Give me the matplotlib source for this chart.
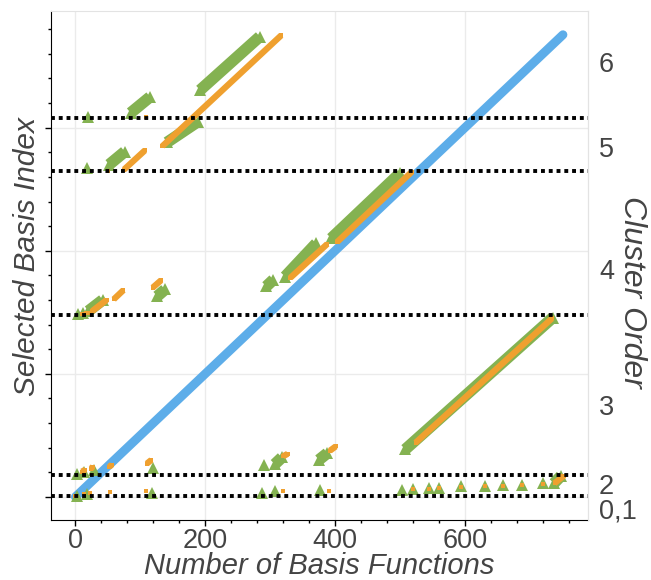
import numpy as np
import matplotlib.pyplot as plt
from matplotlib.ticker import MultipleLocator

# ---- data ----
# each run = a stretch of consecutive basis indices (start / end point)
blue_x0 = [0]
blue_x1 = [751]
blue_y0 = [0]
blue_y1 = [751]

green_x0 = [20, 126, 294, 323, 394, 52, 85, 141, 192, 307, 375, 508, 737]
green_x1 = [42, 138, 305, 371, 500, 76, 115, 189, 284, 318, 388, 735, 748]
green_y0 = [302, 326, 342, 358, 420, 540, 624, 576, 661, 53, 60, 77, 22]
green_y1 = [320, 337, 353, 412, 526, 561, 650, 610, 748, 64, 71, 291, 34]

# single green points
green_px = [2, 18, 118, 288, 307, 376, 503, 520, 544, 560, 594, 631, 659, 688, 721,
            2, 14, 28, 120, 290, 4, 12, 18, 20]
green_py = [1, 4, 6, 7, 9, 11, 11, 13, 14, 15, 17, 18, 19, 20, 22,
            37, 40, 43, 47, 52, 297, 299, 534, 618]

orange_x0 = [10, 24, 52, 110, 320, 392, 524, 738, 26, 59, 119, 331, 403, 75, 134]
orange_x1 = [15, 27, 56, 117, 327, 401, 734, 752, 48, 74, 132, 388, 518, 107, 317]
orange_y0 = [41, 46, 49, 54, 66, 75, 88, 22, 302, 321, 340, 356, 414, 532, 570]
orange_y1 = [44, 49, 52, 60, 70, 82, 290, 34, 320, 336, 352, 411, 528, 563, 750]

# single orange points
orange_px = [0, 13, 23, 53, 109, 320, 390, 520, 544, 560, 594, 631, 659, 688, 721,
             10, 16, 22, 50, 108]
orange_py = [1, 5, 7, 8, 9, 9, 10, 12, 13, 15, 16, 17, 18, 20, 21,
             297, 298, 299, 530, 617]

# boundaries between cluster orders (dotted lines)
cluster_edges = [1, 36, 295, 529, 616]
order_labels = ['0,1', '2', '3', '4', '5', '6']
order_label_y = [-19, 21, 150, 371, 569, 706]

blue = '#5dade9'
green = '#84b251'
orange = '#efa02f'
text_col = '#444444'

plt.rcParams['font.family'] = ['Liberation Sans', 'DejaVu Sans']

fig = plt.figure(figsize=(6.51, 5.8), dpi=100)
ax = fig.add_axes([51 / 651, 1 - 520 / 580, 537 / 651, 509 / 580])

# blue: natural order
for i in range(len(blue_x0)):
    ax.plot([blue_x0[i], blue_x1[i]], [blue_y0[i], blue_y1[i]], color=blue,
            lw=6.4, solid_capstyle='round', zorder=2)

# green runs + points
for i in range(len(green_x0)):
    ax.plot([green_x0[i], green_x1[i]], [green_y0[i], green_y1[i]], color=green,
            lw=8.3, solid_capstyle='butt', marker='^', ms=8.3, mew=0, zorder=3)
ax.plot(green_px, green_py, ls='none', marker='^', ms=8.3, mew=0, color=green, zorder=3)

# orange runs + points
for i in range(len(orange_x0)):
    ax.plot([orange_x0[i], orange_x1[i]], [orange_y0[i], orange_y1[i]], color=orange,
            lw=4.5, solid_capstyle='butt', marker='s', ms=3.4, mew=0, zorder=4)
ax.plot(orange_px, orange_py, ls='none', marker='s', ms=3.4, mew=0, color=orange, zorder=4)

for yb in cluster_edges:
    ax.axhline(yb, color='black', lw=2.8, ls=(0, (1, 1)), zorder=5)

ax.set_xlim(-37.6, 789.6)
ax.set_ylim(-37.6, 789.6)
ax.xaxis.set_major_locator(MultipleLocator(200))
ax.xaxis.set_minor_locator(MultipleLocator(40))
ax.yaxis.set_major_locator(MultipleLocator(200))
ax.yaxis.set_minor_locator(MultipleLocator(40))
ax.set_yticklabels([])
ax.grid(True, which='major', color='#ebebeb', lw=1, zorder=0)
ax.set_axisbelow(True)
ax.tick_params(which='major', length=4, width=1, pad=2, labelsize=19.5, labelcolor=text_col)
ax.tick_params(which='minor', length=2.5, width=1)
ax.tick_params(axis='y', which='both', right=False)

for side in ['top', 'right']:
    ax.spines[side].set_color('#e3e3e3')
for side in ['left', 'bottom']:
    ax.spines[side].set_color('black')

ax.set_xlabel('Number of Basis Functions', fontsize=21, style='italic', color=text_col)
ax.xaxis.set_label_coords(0.5, -46 / 509)
ax.xaxis.label.set_va('center')
ax.set_ylabel('Selected Basis Index', fontsize=21.5, style='italic', color=text_col)
ax.yaxis.set_label_coords(-24 / 537, 263 / 509)
ax.yaxis.label.set_va('center')

# right axis with cluster orders
ax2 = ax.twinx()
ax2.set_ylim(ax.get_ylim())
ax2.set_yticks(order_label_y)
ax2.set_yticklabels(order_labels)
ax2.tick_params(axis='y', length=0, pad=8, labelsize=19.5, labelcolor=text_col)
for side in ['left', 'bottom', 'top']:
    ax2.spines[side].set_visible(False)
ax2.spines['right'].set_color('#e3e3e3')
ax2.set_ylabel('Cluster Order', fontsize=23, style='italic', color=text_col, rotation=270)
ax2.yaxis.set_label_coords(1 + 44 / 537, 228 / 509)
ax2.yaxis.label.set_va('center')

fig.savefig('out.png', dpi=100)
